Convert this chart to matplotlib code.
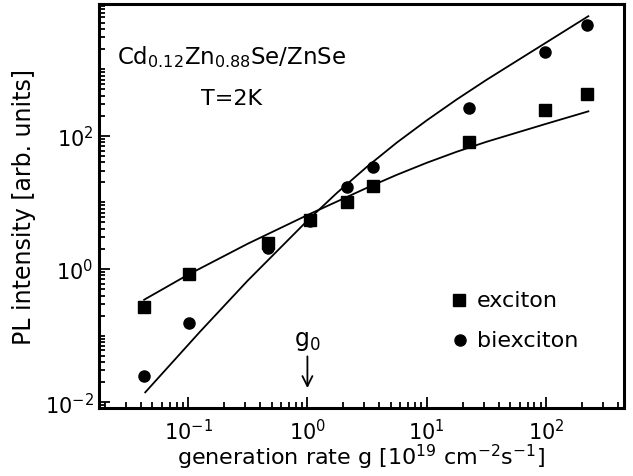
# PL intensity vs generation rate, exciton / biexciton (log-log)
import matplotlib
matplotlib.use("Agg")
import matplotlib.pyplot as plt
from matplotlib.ticker import LogLocator, NullFormatter, FixedLocator

plt.rcParams['font.family'] = ['DejaVu Sans']
plt.rcParams['mathtext.default'] = 'regular'

g_pts = [0.0428, 0.1025, 0.466, 1.05, 2.16, 3.57, 22.7, 98.0, 222.0]
exciton = [0.266, 0.84, 2.5, 5.5, 10.0, 17.8, 81.5, 247.0, 424.0]
biexciton = [0.0245, 0.155, 2.04, 5.3, 17.0, 34.6, 259.0, 1794.0, 4660.0]

# fit curves (sampled along the drawn lines)
g_fit_x = [0.0428, 0.1, 0.3162, 1.0, 3.162, 5.623, 10.0, 17.78, 31.62, 100.0, 226.5]
fit_x = [0.346, 0.822, 2.399, 6.457, 16.6, 26.0, 39.36, 57.54, 81.28, 151.4, 233.3]
g_fit_xx = [0.0437, 0.1259, 0.3162, 1.0, 1.778, 3.162, 5.623, 10.0, 17.78, 31.62, 100.0, 226.5]
fit_xx = [0.01406, 0.1146, 0.6714, 5.333, 14.03, 34.43, 79.34, 170.6, 350.4, 691.0, 2509.0, 6266.0]

x_major = [0.1, 1.0, 10.0, 100.0]
y_major = [0.01, 1.0, 100.0]

fig = plt.figure(figsize=(6.33, 4.77), dpi=100)
ax = fig.add_axes([0.1564, 0.1426, 0.8294, 0.8469])

ax.plot(g_fit_x, fit_x, color='k', lw=1.3)
ax.plot(g_fit_xx, fit_xx, color='k', lw=1.3)
ax.plot(g_pts, exciton, 'ks', ms=8, ls='none')
ax.plot(g_pts, biexciton, 'ko', ms=8, ls='none')

ax.set_xscale('log')
ax.set_yscale('log')
ax.set_xlim(0.0179, 451)
ax.set_ylim(10**-2.087, 10**3.98)

ax.yaxis.set_major_locator(FixedLocator(y_major))
ax.yaxis.set_minor_locator(LogLocator(base=10, subs=range(1, 10), numticks=20))
ax.yaxis.set_minor_formatter(NullFormatter())
ax.xaxis.set_major_locator(FixedLocator(x_major))
ax.xaxis.set_minor_locator(LogLocator(base=10, subs=range(2, 10), numticks=20))
ax.xaxis.set_minor_formatter(NullFormatter())

ax.tick_params(which='both', direction='in', top=False, right=False, width=1.3)
ax.tick_params(which='major', length=8, labelsize=15)
ax.tick_params(axis='x', which='major', pad=7)
ax.tick_params(axis='y', which='major', pad=4)
ax.tick_params(which='minor', length=4)
for s in ax.spines.values():
    s.set_linewidth(2.2)

ax.set_xlabel('generation rate g [10$^{19}$ cm$^{-2}$s$^{-1}$]', fontsize=16, labelpad=-1)
ax.set_ylabel('PL intensity [arb. units]', fontsize=17, labelpad=6)

ax.text(0.034, 0.903, 'Cd$_{0.12}$Zn$_{0.88}$Se/ZnSe', transform=ax.transAxes,
        fontsize=16.5, va='top')
ax.text(0.253, 0.767, 'T=2K', transform=ax.transAxes, fontsize=16, ha='center', va='center')

# legend drawn by hand like the original
ax.plot([0.6850], [0.2683], 'ks', ms=8, transform=ax.transAxes)
ax.plot([0.6878], [0.1690], 'ko', ms=8, transform=ax.transAxes)
ax.text(0.72, 0.2683, 'exciton', transform=ax.transAxes, fontsize=16, va='center')
ax.text(0.72, 0.1690, 'biexciton', transform=ax.transAxes, fontsize=16, va='center')

# g0 arrow
ax.annotate('', xy=(1.0, 10**-1.83), xytext=(1.0, 10**-1.27),
            arrowprops=dict(arrowstyle='->', color='k', lw=1.3, mutation_scale=18))
ax.text(1.0, 10**-1.07, 'g$_0$', fontsize=17, ha='center', va='center')

fig.savefig('out.png', dpi=100)
